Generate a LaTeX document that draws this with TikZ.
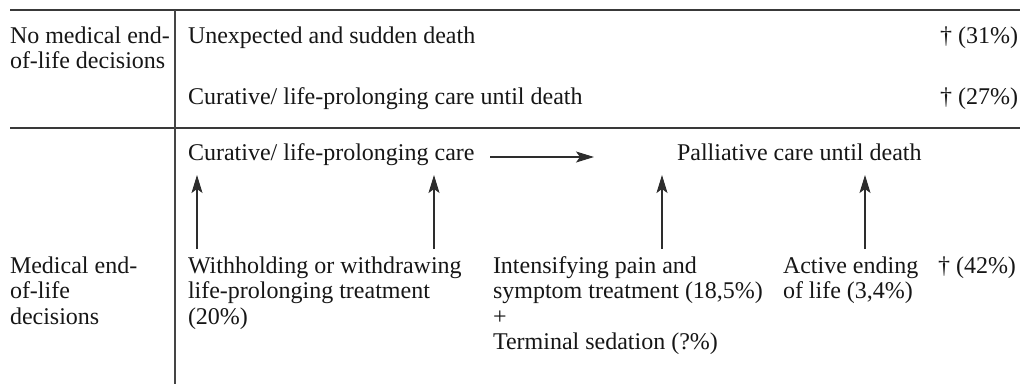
\documentclass[tikz,border=0pt]{standalone}
\usepackage{fontspec}
\setmainfont{Liberation Serif}
\usetikzlibrary{arrows.meta}
\definecolor{ink}{HTML}{161616}
\tikzset{
  txt/.style={anchor=base west, inner sep=0pt, outer sep=0pt, text=ink, font=\fontsize{24}{25.5}\selectfont},
  txtr/.style={txt, anchor=base east},
  rule/.style={draw=ink!85, line width=1.7pt},
  vrule/.style={draw=ink!80, line width=1.3pt},
  arr/.style={draw=ink!90, line width=1.1pt, -{Stealth[length=18pt,width=11pt,inset=4pt]}}
}
\newcommand{\blk}[1]{\begin{tabular}[t]{@{}l@{}}#1\end{tabular}}
\begin{document}
\begin{tikzpicture}[x=1pt,y=-1pt]
\useasboundingbox (0,0) rectangle (1021,384);
% rules
\coordinate (tl) at (10,10);
\coordinate (tr) at (1020,10);
\coordinate (ml) at (10,128);
\coordinate (mr) at (1020,128);
\coordinate (vt) at (175,10);
\coordinate (vb) at (175,384);
\draw[rule] (tl) -- (tr);
\draw[rule] (ml) -- (mr);
\draw[vrule] (vt) -- (vb);
% top section
\node[txt] (nomed) at (10,43) {\blk{No medical end-\\of-life decisions}};
\node[txt] (sudden) at (188,43) {Unexpected and sudden death};
\node[txtr] (p31) at (1018,43) {† (31\%)};
\node[txt] (curuntil) at (188,104) {Curative/ life-prolonging care until death};
\node[txtr] (p27) at (1018,104) {† (27\%)};
% bottom section
\node[txt] (cur) at (188,160) {Curative/ life-prolonging care};
\node[txt] (pal) at (677,160) {Palliative care until death};
\node[txt] (med) at (10,273) {\blk{Medical end-\\of-life\\decisions}};
\node[txt] (with) at (188,273) {\blk{Withholding or withdrawing\\life-prolonging treatment\\(20\%)}};
\node[txt] (intens) at (493,273) {\blk{Intensifying pain and\\symptom treatment (18,5\%)\\+\\Terminal sedation (?\%)}};
\node[txt] (active) at (783,273) {\blk{Active ending\\of life (3,4\%)}};
\node[txt] (p42) at (938,273) {† (42\%)};
% arrows
\coordinate (h1) at (490,157);
\coordinate (h2) at (594,157);
\draw[arr] (h1) -- (h2);
\coordinate (a1b) at (197,249); \coordinate (a1t) at (197,175);
\coordinate (a2b) at (434,249); \coordinate (a2t) at (434,175);
\coordinate (a3b) at (662,249); \coordinate (a3t) at (662,175);
\coordinate (a4b) at (865,249); \coordinate (a4t) at (865,175);
\draw[arr] (a1b) -- (a1t);
\draw[arr] (a2b) -- (a2t);
\draw[arr] (a3b) -- (a3t);
\draw[arr] (a4b) -- (a4t);
\end{tikzpicture}
\end{document}
